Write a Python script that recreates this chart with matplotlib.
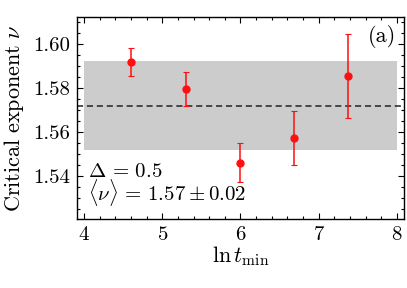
import numpy as np
import matplotlib
matplotlib.use("Agg")
import matplotlib.pyplot as plt
from matplotlib.ticker import MultipleLocator

plt.rcParams['font.family'] = 'cmr10'
plt.rcParams['mathtext.fontset'] = 'cm'
plt.rcParams['axes.formatter.use_mathtext'] = True

# data: t_min = 100, 200, 400, 800, 1600
t_min = np.array([100, 200, 400, 800, 1600])
nu = [1.592, 1.5795, 1.546, 1.5573, 1.5853]
nu_err = [0.0064, 0.0078, 0.009, 0.0123, 0.0192]
nu_mean = 1.572
nu_std = 0.0205
band_x = [4, 8]

fig = plt.figure(figsize=(4.07, 2.88), dpi=100)
ax = fig.add_axes([0.189, 0.24, 0.8036, 0.701])

ax.fill_between(band_x, nu_mean - nu_std, nu_mean + nu_std,
                color='#cccccc', lw=0, zorder=1)
ax.axhline(nu_mean, color='#222222', ls=(0, (4, 2.5)), lw=1.1, zorder=2)
ax.errorbar(np.log(t_min), nu, yerr=nu_err, fmt='o', color='#ff1010',
            ms=5, elinewidth=1.1, capsize=2, capthick=0.8, zorder=3)

ax.set_xlim(3.91, 8.09)
ax.set_ylim(1.5203, 1.6124)
ax.xaxis.set_major_locator(MultipleLocator(1))
ax.xaxis.set_minor_locator(MultipleLocator(0.2))
ax.yaxis.set_major_locator(MultipleLocator(0.02))
ax.yaxis.set_minor_locator(MultipleLocator(0.005))
ax.yaxis.set_major_formatter(plt.FormatStrFormatter('%.2f'))
ax.tick_params(which='both', direction='in', top=True, right=True,
               labelsize=15, width=0.8)
ax.tick_params(which='major', length=4.5, pad=5)
ax.tick_params(which='minor', length=2.5)
for s in ax.spines.values():
    s.set_linewidth(1.0)

ax.set_xlabel(r'$\ln t_{\rm min}$', fontsize=16, labelpad=0)
ax.set_ylabel(r'$\mathrm{Critical\ exponent}\ \nu$', fontsize=16, labelpad=5)

note = (r'$\Delta \,=\, 0.5$' + '\n'
        + r'$\langle\nu\rangle \,=\, 1.57 \pm 0.02$')
ax.text(0.034, 0.09, note, transform=ax.transAxes, fontsize=15,
        va='baseline', linespacing=0.85)
ax.text(0.976, 0.96, '(a)', transform=ax.transAxes, fontsize=16,
        ha='right', va='top')

fig.savefig('out.png', dpi=100)
